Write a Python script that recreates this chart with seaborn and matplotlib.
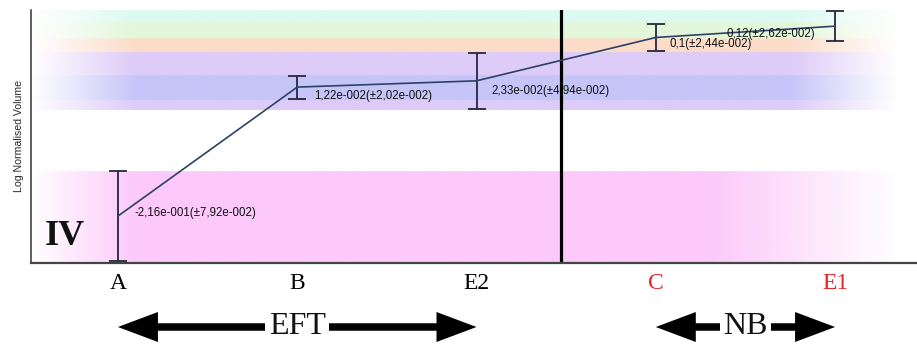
import numpy as np
import pandas as pd
import matplotlib
matplotlib.use("Agg")
import matplotlib.pyplot as plt
from matplotlib.patches import FancyArrow
from matplotlib.colors import to_rgb
import seaborn as sns

# --- data -------------------------------------------------------------
categories = ["A", "B", "E2", "C", "E1"]
means = [-0.216, 0.0122, 0.0233, 0.1, 0.12]
errors = [0.0792, 0.0202, 0.0494, 0.0244, 0.0262]
tick_colors = ["black", "black", "black", "#e3262b", "#e3262b"]

# reference ranges shown as shaded horizontal bands (top, bottom)
band_ranges = [(0.1486, 0.1274), (0.1274, 0.0990), (0.0990, 0.0743),
               (0.0743, 0.0336), (0.0336, -0.0107), (-0.0107, -0.0283),
               (-0.1364, -0.2990)]
band_colors = ["#dcfaf1", "#e3f7da", "#fcdcc9", "#ddcbf8", "#c5c5f9",
               "#ddcbf8", "#fcc9fa"]

divider_x = 2.47
groups = [("EFT", "A", "E2"), ("NB", "C", "E1")]
panel_tag = "IV"

# --- figure -----------------------------------------------------------
sns.set_theme(style="white")
plt.rcParams["font.family"] = ["Liberation Sans", "DejaVu Sans"]

W, H = 917, 345
fig = plt.figure(figsize=(W / 100, H / 100), dpi=100)
ax = fig.add_axes([31 / W, (H - 263) / H, (W - 31) / W, (263 - 10) / H])

xlim = (-0.485, 4.457)
ylim = (-0.299, 0.1486)

# shaded bands, fading in on the left and out on the right
nx, ny = 900, 500
xs = np.linspace(*xlim, nx)
ys = np.linspace(*ylim, ny)
img = np.ones((ny, nx, 4))
img[..., 3] = 0.0
for (top, bot), col in zip(band_ranges, band_colors):
    rows = (ys <= top) & (ys > bot)
    fade_out = 3.30 if bot < -0.1 else 3.75
    a = np.clip((xs - xlim[0]) / (0.10 - xlim[0]), 0, 1)
    a = a * np.clip((4.35 - xs) / (4.35 - fade_out), 0, 1)
    img[rows, :, :3] = to_rgb(col)
    img[rows, :, 3] = a[None, :]
ax.imshow(img, extent=[xlim[0], xlim[1], ylim[0], ylim[1]], origin="lower",
          aspect="auto", zorder=0, interpolation="bilinear")

pos = np.arange(len(categories))
df = pd.DataFrame({"pos": pos, "value": means, "category": categories})

ax.axvline(divider_x, color="black", lw=2.3, zorder=2)
ax.errorbar(pos, means, yerr=errors, fmt="none", ecolor="#26263f",
            elinewidth=1.3, capsize=6.5, capthick=1.3, zorder=3)
sns.lineplot(data=df, x="pos", y="value", ax=ax, color="#2d4262",
             lw=1.2, sort=False, zorder=4)


def fmt(v):
    if 0.1 <= v < 1:
        s = f"{v:g}"
    else:
        m, e = f"{v:.2e}".split("e")
        e = int(e)
        s = f"{m}e{'-' if e < 0 else ''}{abs(e):03d}"
    return s.replace(".", ",")


label_offsets = [(12, 2, "left"), (12, -6.5, "left"), (11, -7, "left"),
                 (10, -5, "left"), (-14, -6, "right")]
for x, m, e, (dx, dy, ha) in zip(pos, means, errors, label_offsets):
    ax.annotate(f"{fmt(m)}(±{fmt(e)})", xy=(x, m), xytext=(dx, dy),
                textcoords="offset points", ha=ha, va="center",
                fontsize=8.3, color="#111111", zorder=5)

ax.set_xlim(*xlim)
ax.set_ylim(*ylim)
ax.set_xticks(pos)
ax.set_xticklabels(categories, family="Liberation Serif", fontsize=17)
for lab, c in zip(ax.get_xticklabels(), tick_colors):
    lab.set_color(c)
ax.tick_params(axis="x", length=0, pad=7)
ax.set_yticks([])
ax.set_xlabel("")
ax.set_ylabel("Log Normalised Volume", fontsize=7.6, labelpad=5)

for side in ("top", "right"):
    ax.spines[side].set_visible(False)
ax.spines["left"].set_color("#333333")
ax.spines["left"].set_linewidth(1.1)
ax.spines["bottom"].set_color("#444444")
ax.spines["bottom"].set_linewidth(1.6)

ax.text(0.016, 0.105, panel_tag, transform=ax.transAxes, ha="left",
        va="center", family="Liberation Serif", fontweight="bold",
        fontsize=26, color="#111111")

# group arrows beneath the axis, spanning their categories
overlay = fig.add_axes([0, 0, 1, 1])
overlay.set_xlim(0, W)
overlay.set_ylim(0, H)
overlay.axis("off")
arrow_y = H - 327
for name, first, last in groups:
    x0 = ax.transData.transform((categories.index(first), 0))[0]
    x1 = ax.transData.transform((categories.index(last), 0))[0]
    xc = (x0 + x1) / 2
    for tip in (x0, x1):
        overlay.add_patch(FancyArrow(xc, arrow_y, tip - xc, 0, width=7.5,
                                     head_width=30, head_length=40,
                                     length_includes_head=True,
                                     color="black", lw=0))
    overlay.text(xc, arrow_y, name, ha="center", va="center",
                 family="Liberation Serif", fontsize=23, color="#111111",
                 bbox=dict(facecolor="white", edgecolor="none", pad=2.5))

fig.savefig("out.png", dpi=100)
